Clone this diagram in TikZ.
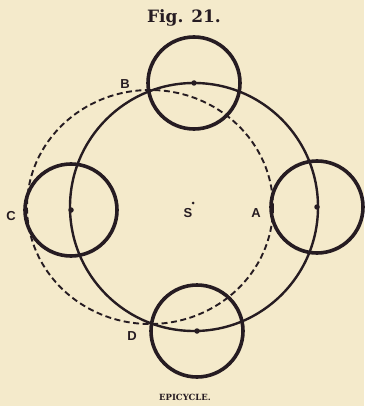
\documentclass[tikz,border=0pt]{standalone}
\usepackage{fontspec}
\setmainfont{DejaVu Serif}
\newfontfamily\lettersf{Liberation Sans}
\usetikzlibrary{positioning, calc}
\definecolor{paper}{RGB}{244,234,203}
\definecolor{ink}{RGB}{38,28,34}
\tikzset{
    epicycle/.style={circle, draw=ink, line width=3.6pt, minimum size=92pt, inner sep=0pt},
    deferent/.style={draw=ink, line width=2.4pt},
    pathline/.style={draw=ink, line width=1.9pt, dash pattern=on 6pt off 3.5pt},
    centredot/.style={circle, fill=ink, minimum size=5.5pt, inner sep=0pt},
    letter/.style={font=\lettersf\bfseries\fontsize{13}{13}\selectfont, text=ink},
}

\begin{document}
\begin{tikzpicture}[x=1pt, y=-1pt]

\fill[paper] (0,0) rectangle (364,406);
\useasboundingbox (0,0) rectangle (364,406);

\coordinate (S) at (194,207);

% path of the planet and the deferent
\draw[pathline] (150,207) ellipse (123 and 117);
\draw[deferent] (S) circle (124);

% the four epicycles
\node[epicycle] (epiB) at (194,83) {};
\node[epicycle] (epiC) at (71,210) {};
\node[epicycle] (epiA) at (317,207) {};
\node[epicycle] (epiD) at (197,331) {};
\foreach \e in {epiA, epiB, epiC, epiD}
    \node[centredot] (\e-dot) at (\e.center) {};

\node[circle, fill=ink, minimum size=3pt, inner sep=0pt] (Sdot) at (193,203) {};
\node[letter] (Slbl) at (188,213) {S};

\node[letter] (Blbl) at (125,84) {B};
\node[letter] (Clbl) at (11,216) {C};
\node[letter] (Albl) at (256,213) {A};
\node[letter] (Dlbl) at (132,336) {D};

\node[font=\bfseries\fontsize{17}{17}\selectfont, text=ink] (title) at (184,18) {Fig. 21.};
\node[font=\bfseries\fontsize{8.5}{8.5}\selectfont, text=ink] (caption) at (185,397) {EPICYCLE.};

\end{tikzpicture}
\end{document}
